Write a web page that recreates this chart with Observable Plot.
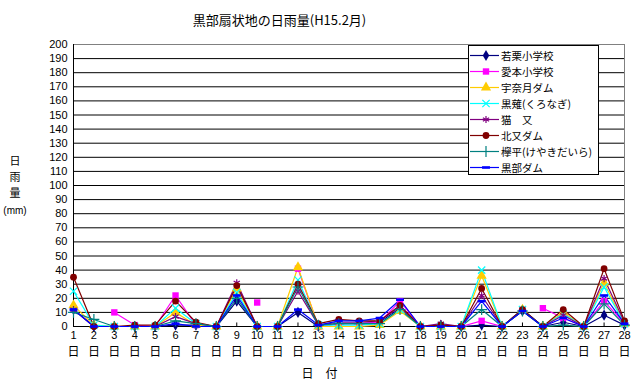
<!DOCTYPE html>
<html><head><meta charset="utf-8">
<script src="https://cdn.jsdelivr.net/npm/d3@7"></script>
<script src="https://cdn.jsdelivr.net/npm/@observablehq/plot@0.6"></script>
<style>
body{margin:0;background:#fff;}
#wrap{position:relative;width:634px;height:386px;font-family:"Noto Sans CJK JP",sans-serif;}
#legend{position:absolute;left:468px;top:45px;width:131px;height:130px;background:#fff;border:1px solid #000;box-sizing:border-box;padding-top:1px;}
.row{display:flex;align-items:center;height:16px;font-size:10.5px;color:#000;white-space:nowrap;}
.row svg{display:block;margin-right:1px;}
</style></head><body><div id="wrap"></div>
<script>
const days = d3.range(1, 29);
const seriesNames = ["若栗小学校","愛本小学校","宇奈月ダム","黒薙(くろなぎ)","猫　又","北又ダム","欅平(けやきだいら)","黒部ダム"];
const seriesColors = ["#000080","#FF00FF","#FFCC00","#00FFFF","#800080","#800000","#008080","#0000FF"];
const wakaguri = [12,0,0,0,0,1,1,0,18,0,0,10,0,2,2,3,13,0,1,0,1,0,11,0,3,0,8,1];
const aimoto   = [13,null,10,1,0,22,1,0,null,17,null,41,0,2,2,3,18,0,0,0,4,0,null,13,6,0,18,2];
const unazuki  = [15,1,0,0,0,10,1,0,27,0,0,42,0,0,0,1,11,0,0,0,36,0,12,0,10,0,31,2];
const kuronagi = [25,1,0,0,0,13,2,0,24,0,0,33,1,1,1,2,12,0,0,0,40,0,12,0,9,0,28,2];
const nekomata = [12,0,0,0,0,7,2,0,31,0,0,25,1,3,3,4,14,0,2,0,22,0,12,0,8,0,34,3];
const kitamata = [35,0,0,1,1,18,3,0,29,0,0,30,2,5,4,4,15,0,1,0,27,0,12,0,12,0,41,4];
const keyaki   = [10,5,0,0,0,4,2,0,20,0,0,28,1,2,2,2,12,0,0,0,12,0,11,0,1,0,16,1];
const kurobe   = [12,0,0,0,0,2,0,0,22,0,0,12,1,4,4,6,19,0,0,0,18,0,11,0,6,0,22,2];
const yTicks = d3.range(0, 201, 10);
const title = "黒部扇状地の日雨量(H15.2月)";
const yLabel = ["日","雨","量"];
const xLabel = "日　付";

const numFont = '"Liberation Sans", Arial, sans-serif';
const dash = {draw(ctx, size){const w=Math.sqrt(size)*0.7;ctx.moveTo(-w,-1.3);ctx.lineTo(w,-1.3);ctx.lineTo(w,1.3);ctx.lineTo(-w,1.3);ctx.closePath();}};
const seriesValues = [wakaguri,aimoto,unazuki,kuronagi,nekomata,kitamata,keyaki,kurobe];
const symbols = [
  {sym:"diamond", fill:true, r:3.4},
  {sym:"square", fill:true, r:3.6},
  {sym:"triangle", fill:true, r:3.8},
  {sym:"times", fill:false, r:3.4},
  {sym:"asterisk", fill:false, r:3.4},
  {sym:"circle", fill:true, r:3.4},
  {sym:"plus", fill:false, r:3.6},
  {sym:dash, fill:true, r:3.2}
];
const d3sym = {diamond:d3.symbolDiamond,square:d3.symbolSquare,triangle:d3.symbolTriangle,times:d3.symbolTimes,asterisk:d3.symbolAsterisk,circle:d3.symbolCircle,plus:d3.symbolPlus};

const marks = [
  Plot.ruleY(yTicks.filter(v=>v<200), {stroke:"#000", strokeWidth:1}),
  Plot.ruleY([200], {stroke:"#808080"}),
  Plot.ruleX([28], {stroke:"#808080"}),
  Plot.ruleX([1], {stroke:"#000"}),
  Plot.ruleX(days, {x:d=>d, y1:0, y2:2.5, stroke:"#000"})
];
seriesValues.forEach((vals, k) => {
  const rows = days.map((d,i)=>({day:d, value:vals[i]}));
  marks.push(Plot.line(rows, {x:"day", y:"value", stroke:seriesColors[k], strokeWidth:1.2}));
});
seriesValues.forEach((vals, k) => {
  const rows = days.map((d,i)=>({day:d, value:vals[i]})).filter(r=>r.value!=null);
  const s = symbols[k];
  marks.push(Plot.dot(rows, {x:"day", y:"value", symbol:s.sym, r:s.r,
    fill: s.fill ? seriesColors[k] : "none", stroke: s.fill ? "none" : seriesColors[k], strokeWidth:1.2}));
});
marks.push(
  Plot.axisY({ticks:yTicks, tickSize:0, tickPadding:6, fontSize:11, fontFamily:numFont, label:null, fill:"#000"}),
  Plot.text(days, {x:d=>d, frameAnchor:"bottom", dy:12, text:d=>String(d), fontSize:11, fontFamily:numFont, fill:"#000"}),
  Plot.text(days, {x:d=>d, frameAnchor:"bottom", dy:29, text:()=>"日", fontSize:12, fill:"#000"}),
  Plot.text([title], {frameAnchor:"top-left", dx:206, dy:-29, text:d=>d, fontSize:13, textAnchor:"middle", fill:"#000"}),
  Plot.text([xLabel], {frameAnchor:"bottom-left", dx:246, dy:51, text:d=>d, fontSize:12, textAnchor:"middle", fill:"#000"})
);

const chart = Plot.plot({
  width:634, height:386,
  marginLeft:73, marginRight:10, marginTop:44, marginBottom:60,
  style:{fontFamily:'"Noto Sans CJK JP", sans-serif', background:"#fff", color:"#000"},
  x:{domain:[1,28], axis:null},
  y:{domain:[0,200], axis:null},
  marks
});
document.getElementById("wrap").appendChild(chart);

// stacked y-axis title
const svg = d3.select(chart);
const yl = [162,178,194];
svg.append("g").attr("font-size",11).attr("font-family",'"Noto Sans CJK JP", sans-serif')
  .selectAll("text").data(yLabel).join("text")
  .attr("x",15).attr("y",(d,i)=>yl[i]).attr("text-anchor","middle").attr("dominant-baseline","middle").text(d=>d);
svg.append("text").attr("x",15).attr("y",211).attr("font-size",10).attr("text-anchor","middle")
  .attr("dominant-baseline","middle").attr("font-family",numFont).text("(mm)");

// legend
const legend = document.createElement("div");
legend.id = "legend";
seriesNames.forEach((name,k)=>{
  const row = document.createElement("div"); row.className="row";
  const s = symbols[k];
  const size = s.r*s.r*Math.PI;
  const path = typeof s.sym === "string" ? d3.symbol(d3sym[s.sym], size)() : d3.symbol(s.sym, size)();
  row.innerHTML = `<svg width="31" height="16"><line x1="1" x2="30" y1="8.5" y2="8.5" stroke="${seriesColors[k]}" stroke-width="1.2"/><path transform="translate(17,8.5)" d="${path}" fill="${s.fill?seriesColors[k]:"none"}" stroke="${s.fill?"none":seriesColors[k]}" stroke-width="1.2"/></svg><span>${name}</span>`;
  legend.appendChild(row);
});
document.getElementById("wrap").appendChild(legend);
</script></body></html>
